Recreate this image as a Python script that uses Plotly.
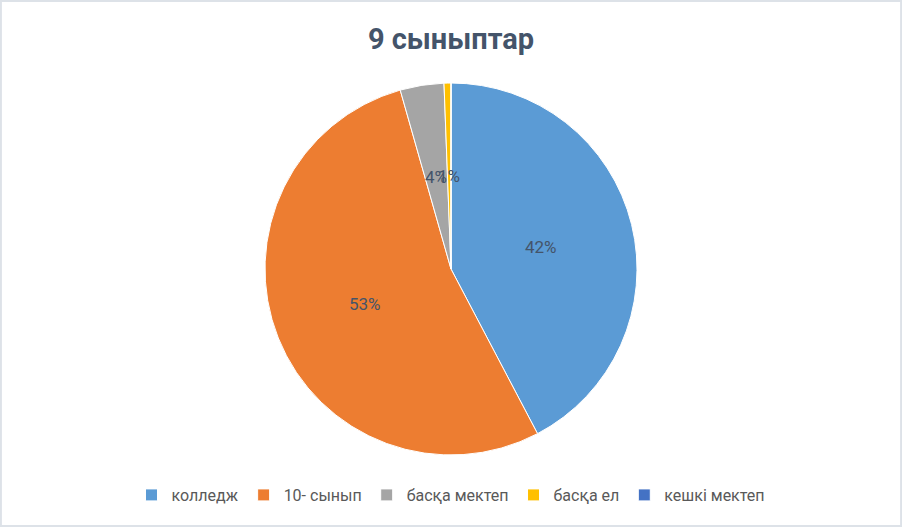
import math
import plotly.graph_objects as go

categories = ["колледж", "10- сынып", "басқа мектеп", "басқа ел", "кешкі мектеп"]
values = [42.3, 53.3, 3.8, 0.6, 0.0]
colors = ["#5B9BD5", "#ED7D31", "#A5A5A5", "#FFC000", "#4472C4"]
title_text = "9 сыныптар"

W, H = 902, 527
pie_top, pie_bottom = 83, 455
label_radius = 0.5

fig = go.Figure(go.Pie(
    labels=categories,
    values=values,
    sort=False,
    direction="clockwise",
    rotation=0,
    marker=dict(colors=colors, line=dict(color="white", width=1)),
    textinfo="none",
    hoverinfo="label+percent",
    domain=dict(x=[0, 1], y=[1 - pie_bottom / H, 1 - pie_top / H]),
))

# percentage labels placed at half radius, like the original chart
cx, cy = W / 2, (pie_top + pie_bottom) / 2
R = (pie_bottom - pie_top) / 2
total = sum(values)
annotations = []
cum = 0.0
for v in values:
    if v > 0:
        mid = (cum + v / 2) / total * 2 * math.pi
        px = cx + label_radius * R * math.sin(mid)
        py = cy - label_radius * R * math.cos(mid)
        annotations.append(dict(
            x=px / W, y=1 - py / H, xref="paper", yref="paper",
            text=f"{round(v / total * 100)}%", showarrow=False,
            xanchor="center", yanchor="middle",
            font=dict(family="Roboto", size=17, color="#44546A"),
        ))
    cum += v

fig.update_layout(
    width=W, height=H,
    margin=dict(l=0, r=0, t=0, b=0),
    paper_bgcolor="white",
    font=dict(family="Roboto", color="#595959"),
    title=dict(text="<b>" + title_text + "</b>", x=0.5, xanchor="center",
               y=1 - 39 / H, yanchor="middle",
               font=dict(family="Roboto", size=29, color="#44546A")),
    legend=dict(orientation="h", x=0.5, xanchor="center", y=1 - 495 / H,
                yanchor="middle", font=dict(family="Roboto", size=16, color="#595959"),
                itemwidth=30),
    annotations=annotations,
    shapes=[dict(type="rect", xref="paper", yref="paper", x0=0.001, y0=0.002,
                 x1=0.999, y1=0.998, line=dict(color="#DDE2E8", width=2))],
)

fig.write_html("out.html", config={"displayModeBar": False},
               post_script="document.body.style.margin='0';")
